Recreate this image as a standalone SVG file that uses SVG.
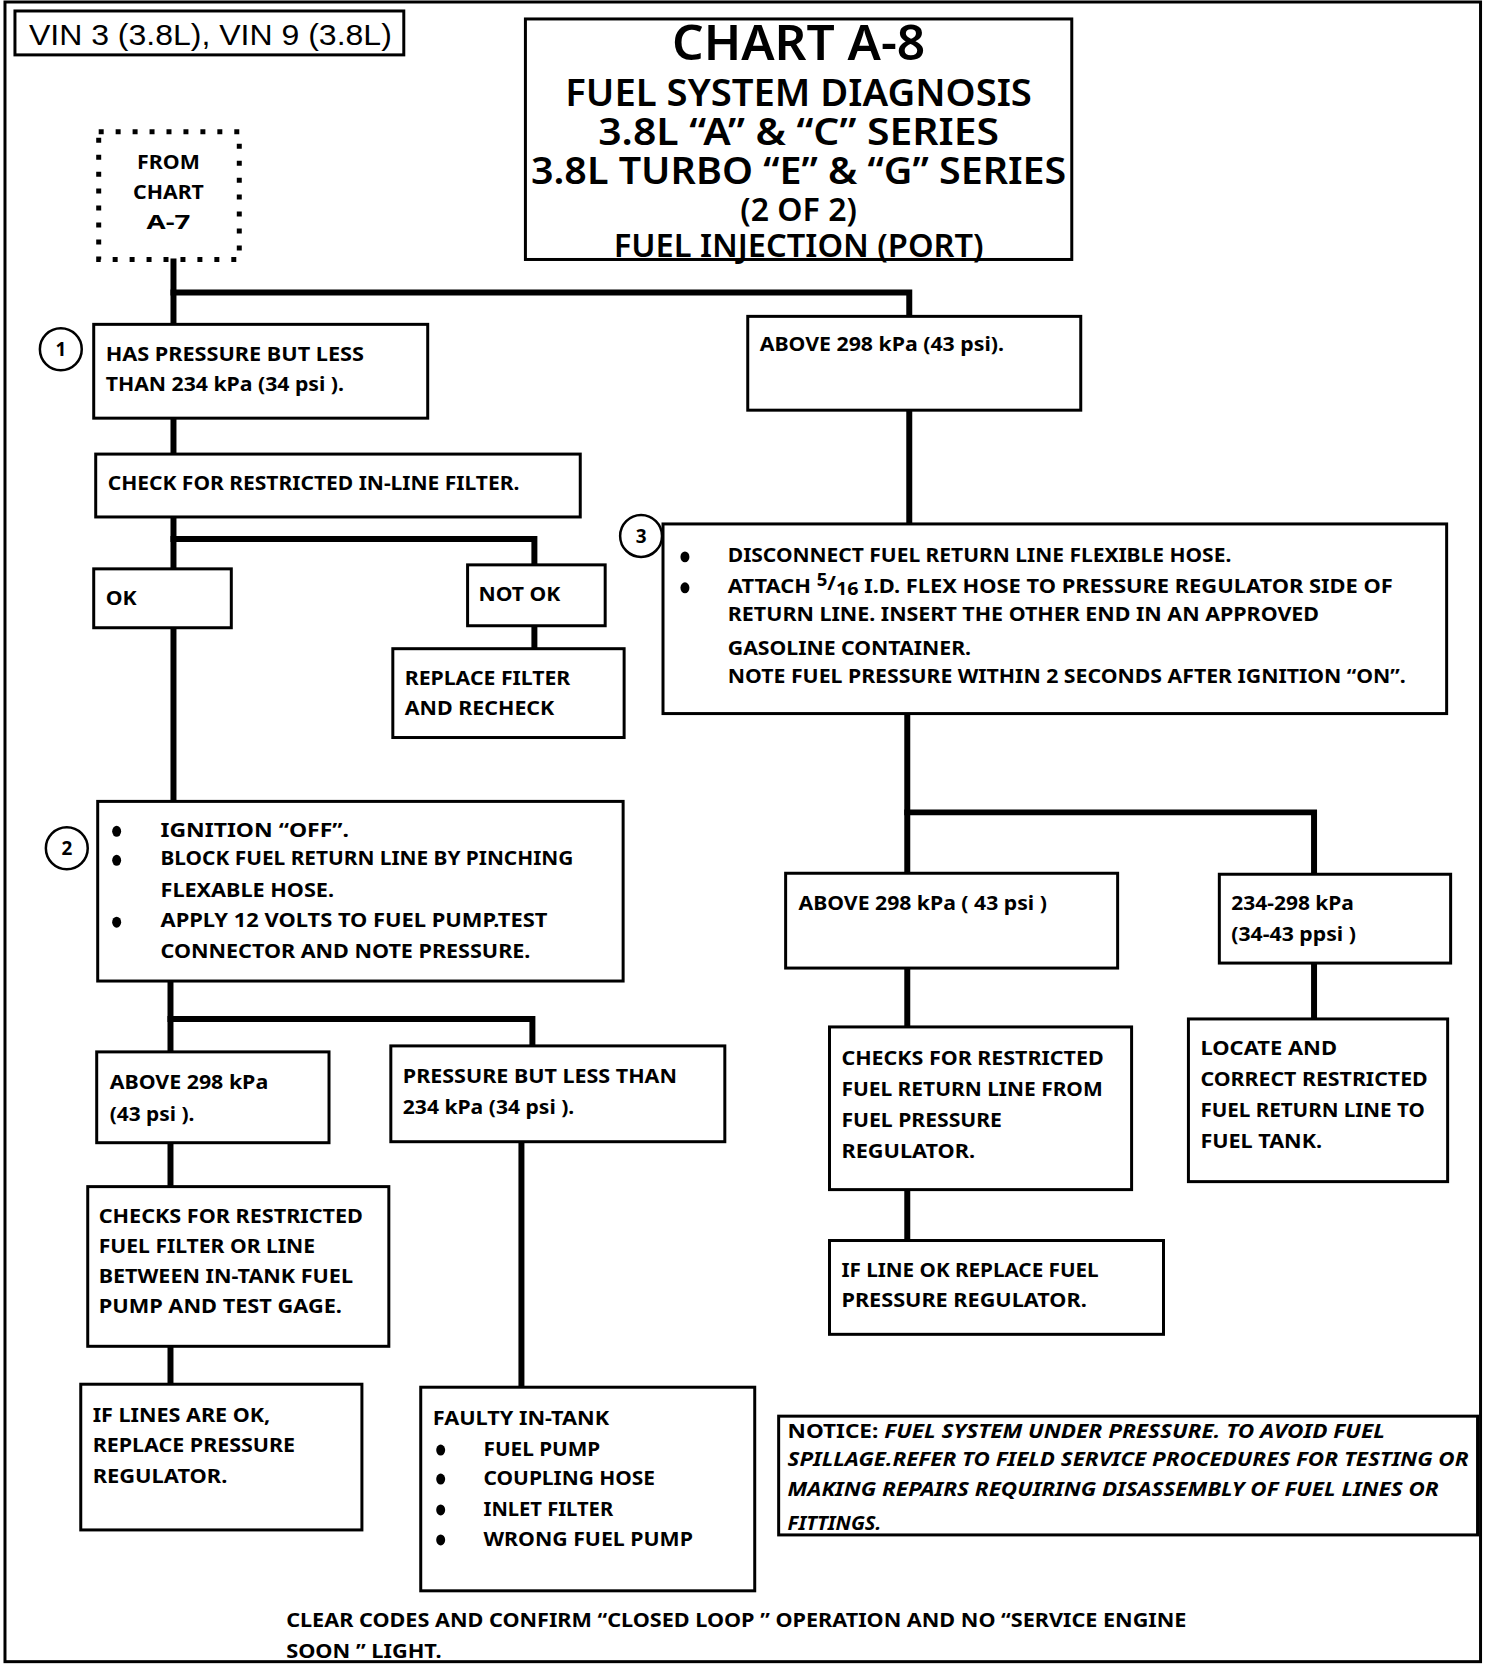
<svg xmlns="http://www.w3.org/2000/svg" width="1504" height="1668" viewBox="0 0 1504 1668">
<style>
.frame{fill:#fff;stroke:#000;stroke-width:3}
.b{fill:#fff;stroke:#000;stroke-width:3}
.dot{fill:none;stroke:#000;stroke-width:5;stroke-dasharray:5 12}
.c{fill:none;stroke:#000;stroke-width:6;stroke-linecap:square}
.t{font-family:"Noto Sans","Liberation Sans",sans-serif;font-weight:bold;font-size:20px;fill:#000}
.ti{font-family:"Noto Sans","Liberation Sans",sans-serif;font-weight:600;fill:#000;text-anchor:middle}
.n{font-family:"Noto Sans","Liberation Sans",sans-serif;font-weight:bold;font-size:19px;text-anchor:middle}
.ci{fill:#fff;stroke:#000;stroke-width:2.5}
.vin{font-family:"Liberation Sans",Arial,sans-serif;font-size:30px}
</style>
<rect x="0" y="0" width="1504" height="1668" fill="#fff"/>
<g transform="scale(0.997,0.998)">
<rect class="frame" x="5" y="2" width="1480" height="1663"/>

<g id="vin">
<rect class="b" x="15" y="11" width="390" height="44"/>
<text class="vin" x="29" y="45" textLength="364" lengthAdjust="spacingAndGlyphs">VIN 3 (3.8L), VIN 9 (3.8L)</text>
</g>

<g id="title">
<rect class="b" x="527" y="19" width="548" height="241"/>
<text class="ti" x="801" y="60" font-size="48" textLength="254" lengthAdjust="spacingAndGlyphs">CHART A-8</text>
<text class="ti" x="801" y="106" font-size="37" textLength="468" lengthAdjust="spacingAndGlyphs">FUEL SYSTEM DIAGNOSIS</text>
<text class="ti" x="801" y="145" font-size="37" textLength="402" lengthAdjust="spacingAndGlyphs">3.8L “A” &amp; “C” SERIES</text>
<text class="ti" x="801" y="184" font-size="37" textLength="537" lengthAdjust="spacingAndGlyphs">3.8L TURBO “E” &amp; “G” SERIES</text>
<text class="ti" x="801" y="221" font-size="33" textLength="117" lengthAdjust="spacingAndGlyphs">(2 OF 2)</text>
<text class="ti" x="801" y="258" font-size="33" textLength="371" lengthAdjust="spacingAndGlyphs">FUEL INJECTION  (PORT)</text>
</g>

<g id="connectors">
<polyline class="c" points="174,262 174,326"/>
<polyline class="c" points="174,293 912,293 912,317"/>
<polyline class="c" points="174,419 174,455"/>
<polyline class="c" points="174,518 174,570"/>
<polyline class="c" points="174,540 536,540 536,566"/>
<polyline class="c" points="536,627 536,650"/>
<polyline class="c" points="174,629 174,803"/>
<polyline class="c" points="171,983 171,1054"/>
<polyline class="c" points="171,1021 534,1021 534,1048"/>
<polyline class="c" points="171,1145 171,1189"/>
<polyline class="c" points="171,1349 171,1387"/>
<polyline class="c" points="523,1144 523,1390"/>
<polyline class="c" points="912,411 912,525"/>
<polyline class="c" points="910,715 910,875"/>
<polyline class="c" points="910,814 1318,814 1318,876"/>
<polyline class="c" points="910,970 910,1029"/>
<polyline class="c" points="1318,965 1318,1021"/>
<polyline class="c" points="910,1192 910,1243"/>
</g>

<g id="from">
<rect class="dot" x="99" y="132" width="141" height="128"/>
<text class="n" x="169" y="169" textLength="63" lengthAdjust="spacingAndGlyphs">FROM</text>
<text class="n" x="169" y="199" textLength="71" lengthAdjust="spacingAndGlyphs">CHART</text>
<text class="n" x="169" y="229" textLength="44" lengthAdjust="spacingAndGlyphs">A-7</text>
</g>

<g id="step1">
<circle class="ci" cx="61" cy="350" r="21"/>
<text class="n" x="61" y="357">1</text>
<rect class="b" x="94" y="325" width="335" height="94"/>
<text class="t" x="106" y="362" textLength="259" lengthAdjust="spacingAndGlyphs">HAS PRESSURE BUT LESS</text>
<text class="t" x="106" y="392" textLength="239" lengthAdjust="spacingAndGlyphs">THAN 234 kPa (34 psi ).</text>
</g>

<g id="check-filter">
<rect class="b" x="96" y="455" width="486" height="63"/>
<text class="t" x="108" y="491" textLength="413" lengthAdjust="spacingAndGlyphs">CHECK FOR RESTRICTED IN-LINE FILTER.</text>
</g>

<g id="ok">
<rect class="b" x="94" y="570" width="138" height="59"/>
<text class="t" x="106" y="606" textLength="31" lengthAdjust="spacingAndGlyphs">OK</text>
</g>

<g id="notok">
<rect class="b" x="469" y="566" width="138" height="61"/>
<text class="t" x="480" y="602" textLength="82" lengthAdjust="spacingAndGlyphs">NOT OK</text>
</g>

<g id="replace-filter">
<rect class="b" x="394" y="650" width="232" height="89"/>
<text class="t" x="406" y="686" textLength="166" lengthAdjust="spacingAndGlyphs">REPLACE FILTER</text>
<text class="t" x="406" y="716" textLength="150" lengthAdjust="spacingAndGlyphs">AND RECHECK</text>
</g>

<g id="step2">
<circle class="ci" cx="67" cy="850" r="21"/>
<text class="n" x="67" y="857">2</text>
<rect class="b" x="98" y="803" width="527" height="180"/>
<ellipse cx="117" cy="833" rx="4.5" ry="5.5"/>
<ellipse cx="117" cy="862" rx="4.5" ry="5.5"/>
<ellipse cx="117" cy="924" rx="4.5" ry="5.5"/>
<text class="t" x="161" y="839" textLength="189" lengthAdjust="spacingAndGlyphs">IGNITION “OFF”.</text>
<text class="t" x="161" y="867" textLength="414" lengthAdjust="spacingAndGlyphs">BLOCK FUEL RETURN LINE BY PINCHING</text>
<text class="t" x="161" y="899" textLength="174" lengthAdjust="spacingAndGlyphs">FLEXABLE HOSE.</text>
<text class="t" x="161" y="929" textLength="388" lengthAdjust="spacingAndGlyphs">APPLY 12 VOLTS TO FUEL PUMP.TEST</text>
<text class="t" x="161" y="960" textLength="371" lengthAdjust="spacingAndGlyphs">CONNECTOR AND NOTE PRESSURE.</text>
</g>

<g id="above298-left">
<rect class="b" x="97" y="1054" width="233" height="91"/>
<text class="t" x="110" y="1091" textLength="159" lengthAdjust="spacingAndGlyphs">ABOVE 298 kPa</text>
<text class="t" x="110" y="1123" textLength="85" lengthAdjust="spacingAndGlyphs">(43 psi ).</text>
</g>

<g id="less234">
<rect class="b" x="392" y="1048" width="335" height="96"/>
<text class="t" x="404" y="1085" textLength="275" lengthAdjust="spacingAndGlyphs">PRESSURE BUT LESS THAN</text>
<text class="t" x="404" y="1116" textLength="172" lengthAdjust="spacingAndGlyphs">234 kPa (34 psi ).</text>
</g>

<g id="checks-filter-line">
<rect class="b" x="88" y="1189" width="302" height="160"/>
<text class="t" x="99" y="1225" textLength="265" lengthAdjust="spacingAndGlyphs">CHECKS FOR RESTRICTED</text>
<text class="t" x="99" y="1256" textLength="217" lengthAdjust="spacingAndGlyphs">FUEL FILTER OR  LINE</text>
<text class="t" x="99" y="1286" textLength="255" lengthAdjust="spacingAndGlyphs">BETWEEN IN-TANK FUEL</text>
<text class="t" x="99" y="1316" textLength="244" lengthAdjust="spacingAndGlyphs">PUMP AND TEST GAGE.</text>
</g>

<g id="if-lines-ok">
<rect class="b" x="81" y="1387" width="282" height="146"/>
<text class="t" x="93" y="1425" textLength="178" lengthAdjust="spacingAndGlyphs">IF LINES ARE  OK,</text>
<text class="t" x="93" y="1455" textLength="203" lengthAdjust="spacingAndGlyphs">REPLACE PRESSURE</text>
<text class="t" x="93" y="1486" textLength="135" lengthAdjust="spacingAndGlyphs">REGULATOR.</text>
</g>

<g id="faulty">
<rect class="b" x="422" y="1390" width="335" height="204"/>
<text class="t" x="434" y="1428" textLength="177" lengthAdjust="spacingAndGlyphs">FAULTY IN-TANK</text>
<ellipse cx="442" cy="1453" rx="4.5" ry="5.5"/>
<ellipse cx="442" cy="1482" rx="4.5" ry="5.5"/>
<ellipse cx="442" cy="1513" rx="4.5" ry="5.5"/>
<ellipse cx="442" cy="1543" rx="4.5" ry="5.5"/>
<text class="t" x="485" y="1459" textLength="117" lengthAdjust="spacingAndGlyphs">FUEL PUMP</text>
<text class="t" x="485" y="1488" textLength="172" lengthAdjust="spacingAndGlyphs">COUPLING HOSE</text>
<text class="t" x="485" y="1519" textLength="130" lengthAdjust="spacingAndGlyphs">INLET FILTER</text>
<text class="t" x="485" y="1549" textLength="210" lengthAdjust="spacingAndGlyphs">WRONG FUEL PUMP</text>
</g>

<g id="above298-top">
<rect class="b" x="750" y="317" width="334" height="94"/>
<text class="t" x="762" y="352" textLength="245" lengthAdjust="spacingAndGlyphs">ABOVE 298 kPa (43 psi).</text>
</g>

<g id="step3">
<rect class="b" x="665" y="525" width="786" height="190"/>
<circle class="ci" cx="643" cy="537" r="21"/>
<text class="n" x="643" y="544">3</text>
<ellipse cx="687" cy="558" rx="4.5" ry="5.5"/>
<ellipse cx="687" cy="589" rx="4.5" ry="5.5"/>
<text class="t" x="730" y="563" textLength="505" lengthAdjust="spacingAndGlyphs">DISCONNECT FUEL RETURN LINE FLEXIBLE HOSE.</text>
<text class="t" x="730" y="594" textLength="667" lengthAdjust="spacingAndGlyphs">ATTACH <tspan font-size="17" dy="-7">5</tspan><tspan dy="4" font-size="19">/</tspan><tspan dy="5" font-size="18">16</tspan><tspan dy="-2"> I.D. FLEX HOSE TO PRESSURE REGULATOR SIDE OF</tspan></text>
<text class="t" x="730" y="622" textLength="593" lengthAdjust="spacingAndGlyphs">RETURN LINE. INSERT THE OTHER END IN  AN  APPROVED</text>
<text class="t" x="730" y="656" textLength="244" lengthAdjust="spacingAndGlyphs">GASOLINE CONTAINER.</text>
<text class="t" x="730" y="684" textLength="680" lengthAdjust="spacingAndGlyphs">NOTE FUEL PRESSURE WITHIN 2 SECONDS AFTER IGNITION “ON”.</text>
</g>

<g id="above298-right">
<rect class="b" x="788" y="875" width="333" height="95"/>
<text class="t" x="801" y="912" textLength="249" lengthAdjust="spacingAndGlyphs">ABOVE 298 kPa ( 43 psi )</text>
</g>

<g id="range234-298">
<rect class="b" x="1223" y="876" width="232" height="89"/>
<text class="t" x="1235" y="912" textLength="123" lengthAdjust="spacingAndGlyphs">234-298 kPa</text>
<text class="t" x="1235" y="943" textLength="125" lengthAdjust="spacingAndGlyphs">(34-43 ppsi )</text>
</g>

<g id="checks-return-line">
<rect class="b" x="832" y="1029" width="303" height="163"/>
<text class="t" x="844" y="1067" textLength="263" lengthAdjust="spacingAndGlyphs">CHECKS FOR RESTRICTED</text>
<text class="t" x="844" y="1098" textLength="262" lengthAdjust="spacingAndGlyphs">FUEL RETURN LINE FROM</text>
<text class="t" x="844" y="1129" textLength="161" lengthAdjust="spacingAndGlyphs">FUEL PRESSURE</text>
<text class="t" x="844" y="1160" textLength="134" lengthAdjust="spacingAndGlyphs">REGULATOR.</text>
</g>

<g id="locate-correct">
<rect class="b" x="1192" y="1021" width="260" height="163"/>
<text class="t" x="1204" y="1057" textLength="137" lengthAdjust="spacingAndGlyphs">LOCATE AND</text>
<text class="t" x="1204" y="1088" textLength="228" lengthAdjust="spacingAndGlyphs">CORRECT RESTRICTED</text>
<text class="t" x="1204" y="1119" textLength="225" lengthAdjust="spacingAndGlyphs">FUEL RETURN LINE TO</text>
<text class="t" x="1204" y="1150" textLength="122" lengthAdjust="spacingAndGlyphs">FUEL TANK.</text>
</g>

<g id="replace-regulator">
<rect class="b" x="832" y="1243" width="335" height="94"/>
<text class="t" x="844" y="1280" textLength="258" lengthAdjust="spacingAndGlyphs">IF LINE OK REPLACE FUEL</text>
<text class="t" x="844" y="1310" textLength="246" lengthAdjust="spacingAndGlyphs">PRESSURE REGULATOR.</text>
</g>

<g id="notice">
<rect class="b" x="781" y="1419" width="701" height="119" stroke-width="3.5"/>
<text class="t" x="790" y="1441" textLength="599" lengthAdjust="spacingAndGlyphs">NOTICE: <tspan font-style="italic">FUEL SYSTEM UNDER PRESSURE. TO AVOID FUEL</tspan></text>
<text class="t" x="790" y="1469" font-style="italic" textLength="683" lengthAdjust="spacingAndGlyphs">SPILLAGE.REFER TO FIELD SERVICE PROCEDURES FOR TESTING OR</text>
<text class="t" x="790" y="1499" font-style="italic" textLength="653" lengthAdjust="spacingAndGlyphs">MAKING REPAIRS REQUIRING DISASSEMBLY OF FUEL LINES OR</text>
<text class="t" x="790" y="1533" font-style="italic" textLength="94" lengthAdjust="spacingAndGlyphs">FITTINGS.</text>
</g>

<g id="footer">
<text class="t" x="287" y="1630" textLength="903" lengthAdjust="spacingAndGlyphs">CLEAR CODES AND CONFIRM “CLOSED LOOP ” OPERATION AND NO “SERVICE ENGINE</text>
<text class="t" x="287" y="1661" textLength="156" lengthAdjust="spacingAndGlyphs">SOON ” LIGHT.</text>
</g>
</g>
</svg>
